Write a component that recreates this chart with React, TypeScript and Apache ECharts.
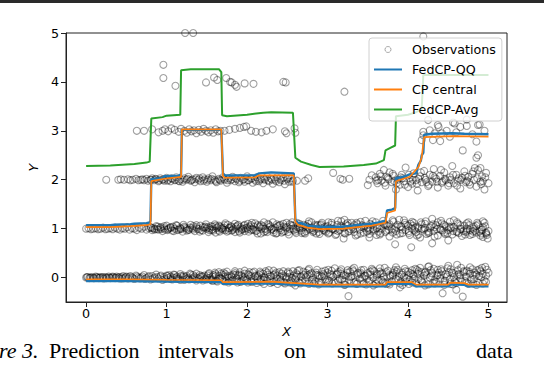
import React, { useEffect, useRef } from "react";
import * as echarts from "echarts";

// ---- Observations ----
const obsBand0: number[][] = [
  [0,0],[0.02,0.01],[0.04,-0.01],[0.06,0],[0.08,0.01],[0.1,-0.01],[0.12,0.02],[0.14,0],[0.16,-0.01],[0.18,0.01],[0.2,0],[0.22,-0.02],[0.24,0.01],[0.26,0],[0.28,0.02],[0.3,-0.01],[0.32,0],[0.34,0.01],[0.36,-0.01],[0.38,0.02],[0.4,0],[0.42,-0.02],[0.44,0.01],[0.46,0.03],[0.48,-0.01],[0.5,0.02],
  [0.01,0.01],[0.05,0],[0.09,-0.01],[0.13,0.01],[0.17,0],[0.21,0.01],[0.25,-0.01],[0.29,0],[0.33,0.02],[0.37,0],[0.41,0.01],[0.45,-0.02],[0.49,0.01],
  [0.52,-0.02],[0.55,0.03],[0.57,0.01],[0.6,-0.03],[0.62,0.04],[0.65,0],[0.67,-0.02],[0.7,0.02],[0.72,0.05],[0.75,-0.01],[0.77,0.01],[0.8,-0.04],[0.82,0.03],[0.85,0],[0.87,0.06],[0.9,-0.02],[0.92,0.02],[0.95,-0.05],[0.97,0.01],[1.0,0.04],[1.02,-0.01],[1.05,0.02],[1.07,-0.04],[1.1,0.05],[1.12,0],[1.15,-0.02],[1.17,0.07],[1.2,0.01],[1.22,-0.05],[1.25,0.03],[1.27,-0.01],[1.3,0.06],[1.32,-0.03],[1.35,0.02],[1.37,0.08],[1.4,-0.02],[1.42,0.01],[1.45,-0.06],[1.47,0.04],[1.5,0],
  [0.53,0.01],[0.58,-0.01],[0.63,0.02],[0.68,0],[0.73,-0.03],[0.78,0.03],[0.83,-0.02],[0.88,0.01],[0.93,0.04],[0.98,-0.03],[1.03,0.05],[1.08,0],[1.13,-0.03],[1.18,0.03],[1.23,0.01],[1.28,-0.04],[1.33,0.05],[1.38,-0.01],[1.43,0.03],[1.48,-0.03],
  [1.52,0.07],[1.55,-0.04],[1.57,0.02],[1.6,0.1],[1.62,-0.06],[1.65,0.03],[1.67,-0.01],[1.7,0.05],[1.72,-0.08],[1.75,0.12],[1.77,0],[1.8,0.04],[1.82,-0.05],[1.85,0.09],[1.87,-0.02],[1.9,0.06],[1.92,-0.09],[1.95,0.01],[1.97,0.14],[2.0,-0.04],[2.02,0.05],[2.05,-0.07],[2.07,0.1],[2.1,0.02],[2.12,-0.11],[2.15,0.06],[2.17,-0.03],[2.2,0.08],[2.22,0],[2.25,-0.06],[2.27,0.15],[2.3,0.03],[2.32,-0.09],[2.35,0.07],[2.37,-0.02],[2.4,0.11],[2.42,-0.05],[2.45,0.04],[2.47,-0.12],[2.5,0.09],[2.52,0.01],[2.55,-0.07],[2.57,0.13],[2.6,-0.03],[2.62,0.06],[2.65,-0.1],[2.67,0.02],[2.7,0.12],[2.72,-0.06],[2.75,0.05],[2.77,-0.13],[2.8,0.09],[2.82,0],[2.85,-0.08],[2.87,0.16],[2.9,0.03],[2.92,-0.11],[2.95,0.07],[2.97,-0.04],[3.0,0.1],
  [1.53,-0.01],[1.58,0.05],[1.63,-0.08],[1.68,0.08],[1.73,0.02],[1.78,-0.06],[1.83,0.06],[1.88,-0.1],[1.93,0.04],[1.98,-0.02],[2.03,0.11],[2.08,-0.05],[2.13,0.03],[2.18,-0.09],[2.23,0.13],[2.28,-0.03],[2.33,0.05],[2.38,-0.13],[2.43,0.08],[2.48,0.02],[2.53,-0.1],[2.58,0.04],[2.63,0.14],[2.68,-0.07],[2.73,0.01],[2.78,0.07],[2.83,-0.12],[2.88,0.05],[2.93,0.12],[2.98,-0.08],
  [3.02,-0.06],[3.05,0.14],[3.07,0.02],[3.1,-0.11],[3.12,0.08],[3.15,-0.03],[3.17,0.17],[3.2,0.05],[3.22,-0.14],[3.25,0.1],[3.27,-0.05],[3.3,0.03],[3.32,0.13],[3.35,-0.09],[3.37,0.06],[3.4,-0.02],[3.42,0.15],[3.45,-0.12],[3.47,0.04],[3.5,0.09],[3.52,-0.07],[3.55,0.18],[3.57,0],[3.6,-0.13],[3.62,0.07],[3.65,0.12],[3.67,-0.05],[3.7,0.02],[3.72,-0.1],[3.75,0.14],[3.77,0.05],[3.8,-0.08],[3.82,0.1],[3.85,-0.03],[3.87,0.16],[3.9,-0.12],[3.92,0.06],[3.95,0.01],[3.97,-0.09],[4.0,0.12],
  [3.03,0.07],[3.08,-0.08],[3.13,0.11],[3.18,-0.04],[3.23,0.04],[3.28,0.12],[3.33,-0.1],[3.38,0.09],[3.43,0],[3.48,-0.14],[3.53,0.06],[3.58,0.13],[3.63,-0.06],[3.68,0.09],[3.73,-0.13],[3.78,0.03],[3.83,0.15],[3.88,-0.05],[3.93,0.1],[3.98,-0.02],
  [4.02,-0.05],[4.05,0.15],[4.07,0.03],[4.1,-0.12],[4.12,0.08],[4.15,0.2],[4.17,-0.07],[4.2,0.04],[4.22,0.12],[4.25,-0.14],[4.27,0],[4.3,0.09],[4.32,0.18],[4.35,-0.09],[4.37,0.05],[4.4,-0.02],[4.42,0.13],[4.45,-0.15],[4.47,0.07],[4.5,0.24],[4.52,-0.04],[4.55,0.1],[4.57,0.01],[4.6,-0.11],[4.62,0.15],[4.65,0.05],[4.67,-0.08],[4.7,0.11],[4.72,0.02],[4.75,-0.13],[4.77,0.08],[4.8,0.17],[4.82,-0.03],[4.85,0.06],[4.87,-0.1],[4.9,0.13],[4.92,0.2],[4.95,-0.06],[4.97,0.04],[5.0,0.1],
  [4.03,0.09],[4.08,-0.02],[4.13,0.13],[4.18,-0.1],[4.23,0.06],[4.28,0.15],[4.33,-0.05],[4.38,0.1],[4.43,-0.32],[4.48,0.02],[4.53,0.17],[4.58,-0.08],[4.63,0.07],[4.68,-0.39],[4.73,0.14],[4.78,-0.04],[4.83,0.1],[4.88,0.03],[4.93,-0.12],[4.98,0.16],
  [1.01,0.03],[1.05,-0.03],[1.09,0.06],[1.13,0.02],[1.17,-0.05],[1.21,0.04],[1.25,-0.02],[1.29,0.08],[1.33,0],[1.37,-0.06],[1.41,0.05],[1.45,0.02],[1.49,-0.04],[1.53,0.09],[1.57,-0.07],[1.61,0.03],[1.65,0.11],[1.69,-0.03],[1.73,0.07],[1.77,-0.1],[1.81,0.01],[1.85,0.13],[1.89,0.04],[1.93,-0.06],[1.97,0.08],[2.01,-0.1],[2.05,0.03],[2.09,0.12],[2.13,-0.04],[2.17,0.09],[2.21,0.01],[2.25,0.1],[2.29,-0.11],[2.33,0.14],[2.37,0.04],[2.41,-0.08],[2.45,0.13],[2.49,-0.02],[2.53,0.08],[2.57,-0.12],[2.61,0.02],[2.65,0.15],[2.69,-0.05],[2.73,0.1],[2.77,0.18],[2.81,-0.09],[2.85,0.06],[2.89,-0.14],[2.93,0.02],[2.97,0.14],
  [3.01,-0.1],[3.05,0.05],[3.09,0.19],[3.13,-0.07],[3.17,0.08],[3.21,-0.15],[3.25,0.15],[3.29,0.01],[3.33,0.2],[3.37,-0.12],[3.41,0.07],[3.45,0.16],[3.49,-0.03],[3.53,0.12],[3.57,-0.16],[3.61,0.04],[3.65,0.19],[3.69,-0.09],[3.73,0.11],[3.77,-0.14],[3.81,0.06],[3.85,0.21],[3.89,0.02],[3.93,-0.15],[3.97,0.13],[4.01,0.05],[4.05,-0.1],[4.09,0.18],[4.13,-0.03],[4.17,0.11],[4.21,-0.16],[4.25,0.22],[4.29,0.03],[4.33,-0.12],[4.37,0.16],[4.41,0.06],[4.45,-0.08],[4.49,0.19],[4.53,-0.13],[4.57,0.09],[4.61,0.26],[4.65,-0.02],[4.69,0.13],[4.73,-0.1],[4.77,0.21],[4.81,0.05],[4.85,-0.15],[4.89,0.17],[4.93,0.08],[4.97,-0.09],
  [1.51,0.04],[1.56,-0.05],[1.61,0.07],[1.66,-0.02],[1.71,0.1],[1.76,0.03],[1.81,-0.07],[1.86,0.05],[1.91,0.11],[1.96,-0.04],[2.01,0.07],[2.06,-0.09],[2.11,0.04],[2.16,0.12],[2.21,-0.05],[2.26,0.06],[2.31,-0.08],[2.36,0.1],[2.41,0.02],[2.46,-0.1],[2.51,0.12],[2.56,-0.01],[2.61,0.09],[2.66,-0.12],[2.71,0.05],[2.76,0.15],[2.81,-0.04],[2.86,0.1],[2.91,-0.09],[2.96,0.04],
  [3.01,0.16],[3.06,-0.12],[3.11,0.06],[3.16,0.13],[3.21,-0.07],[3.26,0.02],[3.31,0.17],[3.36,-0.13],[3.41,0.1],[3.46,0.03],[3.51,-0.1],[3.56,0.15],[3.61,-0.04],[3.66,0.08],[3.71,0.2],[3.76,-0.11],[3.81,0.04],[3.86,0.12],[3.91,-0.08],[3.96,0.18],[4.01,-0.13],[4.06,0.07],[4.11,0.16],[4.16,-0.05],[4.21,0.1],[4.26,0.23],[4.31,-0.11],[4.36,0.04],[4.41,0.17],[4.46,-0.06],[4.51,0.11],[4.56,-0.14],[4.61,0.05],[4.66,0.2],[4.71,-0.07],[4.76,0.12],[4.81,-0.12],[4.86,0.15],[4.91,0.01],[4.96,0.22],
  [3.26,-0.38],[2.21,-0.13],[2.6,-0.16],[3.9,-0.2],[4.6,-0.25]
];

const obsBand1: number[][] = [
  [0,1.0],[0.03,1.01],[0.06,0.99],[0.09,1.0],[0.12,1.01],[0.15,0.99],[0.18,1.0],[0.21,1.02],[0.24,0.99],[0.27,1.0],[0.3,1.01],[0.33,0.99],[0.36,1.02],[0.39,1.0],[0.42,0.98],[0.45,1.01],[0.48,1.0],[0.51,1.03],[0.54,0.98],[0.57,1.01],[0.6,1.0],[0.63,0.97],[0.66,1.02],[0.69,1.0],[0.72,1.04],[0.75,0.98],[0.78,1.01],
  [0.8,1.03],[0.82,0.97],[0.85,1.0],[0.87,1.05],[0.9,0.98],[0.92,1.02],[0.95,0.95],[0.97,1.01],[1.0,1.06],[1.02,0.99],[1.05,1.03],[1.07,0.96],[1.1,1.0],[1.12,1.07],[1.15,0.98],[1.17,1.02],[1.2,0.94],[1.22,1.04],[1.25,1.0],[1.27,0.97],[1.3,1.08],[1.32,1.01],[1.35,0.95],[1.37,1.03],[1.4,0.99],[1.42,1.06],[1.45,0.96],[1.47,1.02],[1.5,1.0],[1.52,0.93],[1.55,1.05],[1.57,0.99],[1.6,1.09],[1.62,1.01],[1.65,0.96],[1.67,1.04],[1.7,0.98],[1.72,1.07],[1.75,0.94],[1.77,1.01],[1.8,1.05],[1.82,0.97],[1.85,1.1],[1.87,1.0],[1.9,0.95],[1.92,1.03],[1.95,0.99],[1.97,1.08],
  [0.83,1.01],[0.88,0.99],[0.93,1.03],[0.98,0.98],[1.03,1.01],[1.08,1.04],[1.13,0.97],[1.18,1.0],[1.23,1.02],[1.28,0.98],[1.33,1.05],[1.38,1.0],[1.43,0.97],[1.48,1.04],[1.53,1.01],[1.58,0.96],[1.63,1.03],[1.68,1.0],[1.73,0.97],[1.78,1.02],[1.83,1.0],[1.88,1.06],[1.93,0.97],[1.98,1.01],
  [2.0,1.02],[2.02,0.94],[2.05,1.07],[2.07,0.99],[2.1,1.11],[2.12,0.96],[2.15,1.03],[2.17,0.9],[2.2,1.05],[2.22,1.0],[2.25,0.93],[2.27,1.08],[2.3,0.98],[2.32,1.13],[2.35,1.02],[2.37,0.91],[2.4,1.06],[2.42,0.97],[2.45,1.1],[2.47,0.95],[2.5,1.03],[2.52,0.88],[2.55,1.07],[2.57,1.0],[2.6,0.94],[2.62,1.12],[2.65,1.01],[2.67,0.96],[2.7,1.08],[2.72,0.9],[2.75,1.04],[2.77,0.98],[2.8,1.13],[2.82,0.93],[2.85,1.05],[2.87,1.0],[2.9,0.89],[2.92,1.09],[2.95,0.97],[2.97,1.04],
  [2.03,1.04],[2.08,0.97],[2.13,1.07],[2.18,1.0],[2.23,0.95],[2.28,1.03],[2.33,0.97],[2.38,1.05],[2.43,0.92],[2.48,1.02],[2.53,1.09],[2.58,0.97],[2.63,1.03],[2.68,0.91],[2.73,1.06],[2.78,1.0],[2.83,0.95],[2.88,1.07],[2.93,1.01],[2.98,0.94],
  [3.0,1.05],[3.02,0.92],[3.05,1.12],[3.07,1.0],[3.1,0.87],[3.12,1.08],[3.15,0.97],[3.17,1.15],[3.2,1.02],[3.22,0.9],[3.25,1.06],[3.27,0.95],[3.3,1.12],[3.32,1.0],[3.35,0.86],[3.37,1.09],[3.4,0.98],[3.42,1.04],[3.45,0.92],[3.47,1.16],[3.5,1.01],[3.52,0.89],[3.55,1.07],[3.57,0.96],[3.6,1.13],[3.62,1.03],[3.65,0.88],[3.67,1.0],[3.7,1.1],[3.72,0.93],[3.75,1.05],[3.77,0.84],[3.8,1.0],[3.82,1.14],[3.85,0.95],[3.87,1.08],[3.9,0.9],[3.92,1.03],[3.95,1.17],[3.97,0.97],
  [4.0,1.06],[4.02,0.87],[4.05,1.0],[4.07,1.12],[4.1,0.93],[4.12,1.04],[4.15,0.82],[4.17,1.09],[4.2,0.98],[4.22,1.15],[4.25,0.91],[4.27,1.02],[4.3,1.2],[4.32,0.95],[4.35,1.07],[4.37,0.86],[4.4,1.0],[4.42,1.11],[4.45,0.92],[4.47,1.05],[4.5,0.97],[4.52,1.14],[4.55,0.88],[4.57,1.03],[4.6,0.94],[4.62,1.1],[4.65,0.99],[4.67,0.85],[4.7,1.06],[4.72,0.93],[4.75,1.13],[4.77,0.97],[4.8,0.89],[4.82,1.04],[4.85,0.92],[4.87,1.09],[4.9,0.86],[4.92,0.98],[4.95,1.12],[4.97,0.9],[5.0,0.95],
  [3.03,1.01],[3.13,0.95],[3.23,1.09],[3.33,0.93],[3.43,1.07],[3.53,0.99],[3.63,0.94],[3.73,1.07],[3.83,0.98],[3.93,0.91],[4.03,1.1],[4.08,0.96],[4.13,1.01],[4.23,0.89],[4.33,1.03],[4.43,0.96],[4.53,1.01],[4.63,0.91],[4.73,1.0],[4.83,0.96],[4.93,1.03],[4.98,0.87],[4.99,0.8],
  [0.81,1.02],[0.85,0.98],[0.89,1.04],[0.93,0.99],[0.97,1.05],[1.01,0.97],[1.05,1.02],[1.09,0.95],[1.13,1.06],[1.17,0.99],[1.21,1.08],[1.25,0.96],[1.29,1.02],[1.33,0.98],[1.37,1.07],[1.41,0.94],[1.45,1.03],[1.49,1.09],[1.53,0.97],[1.57,1.04],[1.61,0.92],[1.65,1.06],[1.69,1.01],[1.73,1.11],[1.77,0.96],[1.81,1.03],[1.85,0.93],[1.89,1.08],[1.93,1.0],[1.97,0.95],
  [2.01,1.1],[2.05,0.97],[2.09,1.04],[2.13,0.9],[2.17,1.08],[2.21,1.13],[2.25,0.98],[2.29,1.05],[2.33,0.92],[2.37,1.09],[2.41,1.01],[2.45,0.94],[2.49,1.12],[2.53,0.99],[2.57,1.06],[2.61,0.91],[2.65,1.1],[2.69,1.02],[2.73,0.95],[2.77,1.15],[2.81,0.97],[2.85,1.08],[2.89,0.93],[2.93,1.12],[2.97,1.0],
  [3.01,0.9],[3.05,1.08],[3.09,0.97],[3.13,1.16],[3.17,1.03],[3.21,0.91],[3.25,1.12],[3.29,0.99],[3.33,1.07],[3.37,0.88],[3.41,1.14],[3.45,1.02],[3.49,0.94],[3.53,1.1],[3.57,0.99],[3.61,0.87],[3.65,1.06],[3.69,1.16],[3.73,0.96],[3.77,1.09],[3.81,0.92],[3.85,1.04],[3.89,1.18],[3.93,0.98],[3.97,1.08],
  [4.01,0.91],[4.05,1.14],[4.09,1.02],[4.13,0.88],[4.17,1.0],[4.21,1.1],[4.25,0.95],[4.29,1.05],[4.33,0.84],[4.37,1.13],[4.41,0.97],[4.45,1.08],[4.49,0.9],[4.53,1.03],[4.57,1.17],[4.61,0.93],[4.65,1.07],[4.69,0.95],[4.73,1.11],[4.77,0.87],[4.81,1.0],[4.85,1.06],[4.89,0.94],[4.93,1.15],[4.97,0.92],
  [1.51,1.03],[1.56,0.97],[1.61,1.06],[1.66,0.94],[1.71,1.02],[1.76,1.08],[1.81,0.96],[1.86,1.04],[1.91,0.92],[1.96,1.06],[2.01,0.99],[2.06,1.12],[2.11,0.95],[2.16,1.05],[2.21,0.93],[2.26,1.1],[2.31,1.0],[2.36,0.9],[2.41,1.08],[2.46,1.04],[2.51,0.93],[2.56,1.13],[2.61,0.99],[2.66,1.06],[2.71,0.92],[2.76,1.1],[2.81,1.02],[2.86,0.9],[2.91,1.07],[2.96,0.96],
  [3.01,1.13],[3.06,0.99],[3.11,0.89],[3.16,1.06],[3.21,1.18],[3.26,0.94],[3.31,1.03],[3.36,1.12],[3.41,0.9],[3.46,1.05],[3.51,0.97],[3.56,1.15],[3.61,1.01],[3.66,0.91],[3.71,1.08],[3.76,0.98],[3.81,1.17],[3.86,0.88],[3.91,1.05],[3.96,1.12],[4.01,0.95],[4.06,1.06],[4.11,0.86],[4.16,1.13],[4.21,1.01],[4.26,0.92],[4.31,1.09],[4.36,0.99],[4.41,1.16],[4.46,0.89],[4.51,1.04],[4.56,0.95],[4.61,1.13],[4.66,1.0],[4.71,0.88],[4.76,1.07],[4.81,0.94],[4.86,1.12],[4.91,0.97],[4.96,1.05],
  [4.04,0.62],[3.84,0.68],[3.2,0.8],[3.52,0.82],[4.93,0.83],[4.3,0.7],[4.5,0.76],[4.73,0.96],[4.91,0.9]
];

const obsBand2: number[][] = [
  [0.25,2.0],[0.4,2.0],[0.43,2.01],[0.47,2.0],[0.52,2.01],[0.55,1.99],[0.58,2.0],[0.62,2.02],[0.65,1.99],[0.68,2.0],
  [0.7,2.01],[0.72,1.99],[0.75,2.02],[0.77,1.98],[0.8,2.0],[0.82,2.03],[0.85,1.99],[0.87,2.01],[0.9,1.97],[0.92,2.03],[0.95,2.0],[0.97,1.98],[1.0,2.04],[1.02,2.0],[1.05,1.97],[1.07,2.02],[1.1,1.99],[1.12,2.05],[1.15,1.98],[1.17,2.01],[1.2,1.96],[1.22,2.03],[1.25,2.0],[1.27,2.06],[1.3,1.98],[1.32,2.01],[1.35,1.95],[1.37,2.04],[1.4,2.0],[1.42,1.97],[1.45,2.05],[1.47,2.01],[1.5,1.96],[1.52,2.03],[1.55,1.99],[1.57,2.07],[1.6,2.0],[1.62,1.95],[1.65,2.02],[1.67,1.98],[1.7,2.05],[1.72,2.0],[1.75,1.94],[1.77,2.03],[1.8,1.99],[1.82,2.06],[1.85,1.97],[1.87,2.01],[1.9,1.95],[1.92,2.04],[1.95,2.0],[1.97,1.96],[2.0,2.07],[2.02,1.99],[2.05,2.02],[2.07,1.94],[2.1,2.0],[2.12,2.05],[2.15,1.97],[2.17,2.02],[2.2,1.93],[2.22,2.0],[2.25,2.06],[2.27,1.97],[2.3,2.02],[2.32,1.92],[2.35,2.0],[2.37,2.05],[2.4,1.95],[2.42,1.99],[2.45,2.04],[2.47,1.91],[2.5,2.01],[2.52,1.96],[2.55,2.03],[2.57,1.98],
  [1.21,2.0],[1.26,2.02],[1.31,1.99],[1.36,2.01],[1.41,2.03],[1.46,1.98],[1.51,2.0],[1.56,2.02],[1.61,1.97],[1.66,2.0],[1.71,2.02],[1.76,1.99],[1.81,2.01],[1.86,2.03],[1.91,1.98],[1.96,2.01],[2.01,1.99],[2.06,2.03],[2.11,1.97],[2.16,2.0],[2.21,2.02],[2.26,1.99],[2.31,2.0],[2.36,1.97],
  [0.81,2.0],[0.86,2.02],[0.91,1.99],[0.96,2.01],[1.01,1.98],[1.06,2.03],[1.11,2.0],[1.16,1.97],[2.41,2.02],[2.46,1.98],[2.51,2.04],[2.56,1.96],
  [2.62,1.98],[2.72,1.98],[2.76,2.03],[3.07,2.14],[3.16,2.02],[3.19,2.0],[3.27,2.02],[3.5,1.89],[3.52,2.0],[3.55,2.09],
  [3.6,2.05],[3.62,1.93],[3.65,2.12],[3.67,1.98],[3.7,2.2],[3.72,1.88],[3.75,2.04],[3.77,2.15],[3.8,1.95],[3.82,2.08],[3.85,1.8],[3.87,2.0],[3.9,1.9],[3.92,2.1],[3.95,1.97],[3.97,2.25],[4.0,1.85],[4.02,2.03],[4.05,1.92],[4.07,2.13],[4.1,1.99],[4.12,1.78],[4.15,2.07],[4.17,1.95],[4.2,2.18],[4.22,2.0],[4.25,1.87],[4.27,2.1],[4.3,1.96],[4.32,2.22],[4.35,2.02],[4.37,1.84],[4.4,2.08],[4.42,1.94],[4.45,2.15],[4.47,1.99],[4.5,1.88],[4.52,2.05],[4.55,2.28],[4.57,1.93],[4.6,2.1],[4.62,1.98],[4.65,1.82],[4.67,2.04],[4.7,2.17],[4.72,1.95],[4.75,2.06],[4.77,1.9],[4.8,2.12],[4.82,2.0],[4.85,1.86],[4.87,2.2],[4.9,1.96],[4.92,2.07],[4.95,1.8],[4.97,2.14],[5.0,1.93],
  [3.63,2.0],[3.73,2.06],[3.83,1.97],[3.93,2.03],[4.03,1.96],[4.13,2.02],[4.23,1.95],[4.33,2.05],[4.43,1.97],[4.53,2.0],[4.63,2.03],[4.73,1.98],[4.83,2.24],[4.93,1.97],[4.9,2.24],
  [3.61,1.98],[3.66,2.07],[3.71,1.94],[3.76,2.01],[3.81,2.12],[3.86,1.93],[3.91,2.05],[3.96,1.9],[4.01,2.1],[4.06,2.0],[4.11,1.92],[4.16,2.15],[4.21,2.04],[4.26,1.9],[4.31,2.08],[4.36,1.96],[4.41,2.2],[4.46,2.02],[4.51,1.93],[4.56,2.1],[4.61,1.88],[4.66,2.0],[4.71,2.08],[4.76,1.95],[4.81,2.17],[4.86,2.03],[4.91,1.91],[4.96,2.05]
];

const obsBand3: number[][] = [
  [0.63,3.0],[0.72,3.0],[0.82,3.03],[0.9,2.97],[0.95,3.0],[0.98,3.03],[1.02,2.99],[1.06,3.05],[1.1,3.02],[1.15,2.98],[1.18,3.04],[1.22,3.0],[1.25,2.96],[1.28,3.03],[1.31,2.99],[1.34,3.01],[1.37,2.95],[1.4,3.02],[1.43,2.98],[1.46,3.04],[1.49,3.0],[1.52,2.97],[1.55,3.01],[1.58,2.96],[1.61,3.03],[1.64,2.99],[1.67,3.0],
  [1.72,3.0],[1.78,3.02],[1.85,3.04],[1.91,3.06],[1.96,3.08],[1.99,3.09],[2.05,3.0],[2.11,2.98],[2.18,2.97],[2.24,3.0],[2.32,3.03],[2.47,2.99],[2.49,2.95],[2.59,3.05],[2.6,2.96],
  [4.17,2.81],[4.19,2.91],[4.19,2.98],[4.25,3.22],[4.27,3.01],[4.31,2.81],[4.33,2.95],[4.37,3.12],[4.38,3.08],[4.4,2.79],[4.42,2.95],[4.48,3.0],[4.52,2.88],[4.56,3.17],[4.58,3.15],[4.6,2.97],[4.65,3.08],[4.68,2.6],[4.73,3.23],[4.73,3.1],[4.8,2.93],[4.85,2.45],[4.85,2.78],[4.87,3.12],[4.87,2.5],[4.89,3.13],[4.95,3.0]
];

const obsOutliers: number[][] = [
  [0.96,4.35],[0.96,4.08],[1.11,3.92],[1.23,5.0],[1.33,5.0],[1.49,3.99],[1.59,4.09],[1.63,4.04],[1.74,4.08],[1.79,4.0],[1.81,3.99],[1.85,3.94],[1.87,3.9],[1.97,3.97],[2.08,3.96],[2.45,4.0],[2.48,3.99],[3.21,3.8],[4.19,4.93]
];

// ---- Interval bounds (step curves) ----
const qqUpper: number[][] = [
  [0,1.07],[0.3,1.07],[0.35,1.08],[0.55,1.09],[0.6,1.1],[0.75,1.11],[0.79,1.13],[0.8,1.16],[0.81,2.01],[0.95,2.03],[0.97,2.07],[1.15,2.08],[1.18,2.11],[1.19,3.02],[1.68,3.02],[1.7,2.13],[1.72,2.09],[2.1,2.09],[2.15,2.13],[2.3,2.15],[2.58,2.13],[2.6,1.18],[2.63,1.12],[2.7,1.1],[2.75,1.06],[2.9,1.04],[3.2,1.04],[3.35,1.07],[3.55,1.1],[3.62,1.12],[3.72,1.16],[3.74,1.37],[3.8,1.39],[3.84,1.42],[3.85,2.03],[3.95,2.06],[4.02,2.11],[4.1,2.13],[4.13,2.31],[4.16,2.39],[4.17,2.5],[4.19,2.55],[4.2,2.92],[4.3,2.94],[4.55,2.95],[4.7,2.94],[5.0,2.93]
];
const qqLower: number[][] = [
  [0,-0.07],[0.5,-0.07],[1.0,-0.08],[1.68,-0.09],[1.7,-0.13],[2.3,-0.12],[2.5,-0.14],[2.9,-0.18],[3.72,-0.18],[3.74,-0.13],[4.05,-0.13],[4.1,-0.18],[4.5,-0.18],[4.53,-0.14],[4.7,-0.15],[4.75,-0.18],[5.0,-0.18]
];
const cpUpper: number[][] = [
  [0,1.03],[0.3,1.03],[0.55,1.05],[0.75,1.07],[0.8,1.09],[0.81,1.97],[0.97,2.02],[1.18,2.06],[1.19,3.03],[1.68,3.03],[1.7,2.08],[1.72,2.04],[2.1,2.05],[2.15,2.09],[2.58,2.09],[2.6,1.14],[2.63,1.08],[2.75,1.02],[2.9,0.99],[3.2,1.0],[3.55,1.06],[3.72,1.12],[3.74,1.32],[3.84,1.37],[3.85,1.97],[4.02,2.06],[4.13,2.26],[4.17,2.46],[4.2,2.87],[4.55,2.89],[5.0,2.88]
];
const cpLower: number[][] = [
  [0,-0.035],[0.5,-0.035],[1.0,-0.045],[1.68,-0.055],[1.7,-0.095],[2.3,-0.085],[2.5,-0.105],[2.9,-0.145],[3.72,-0.145],[3.74,-0.095],[4.05,-0.095],[4.1,-0.145],[4.5,-0.145],[4.53,-0.105],[4.7,-0.115],[4.75,-0.145],[5.0,-0.145]
];
const avgUpper: number[][] = [
  [0,2.28],[0.3,2.29],[0.4,2.3],[0.6,2.32],[0.75,2.35],[0.79,2.37],[0.81,3.25],[0.95,3.28],[1.0,3.31],[1.17,3.33],[1.18,4.24],[1.3,4.26],[1.65,4.26],[1.68,4.2],[1.69,3.32],[1.75,3.3],[2.0,3.33],[2.2,3.37],[2.3,3.38],[2.57,3.37],[2.6,2.45],[2.67,2.37],[2.8,2.3],[2.9,2.26],[3.2,2.27],[3.45,2.3],[3.6,2.33],[3.7,2.4],[3.72,2.6],[3.78,2.65],[3.84,2.7],[3.85,3.3],[4.0,3.33],[4.1,3.38],[4.17,3.45],[4.19,4.14],[5.0,4.14]
];

const xTicks = [0, 1, 2, 3, 4, 5];
const yTicks = [0, 1, 2, 3, 4, 5];
const captionWords = ["Prediction", "intervals", "on", "simulated", "data"];

const BLUE = "#1f77b4";
const ORANGE = "#ff7f0e";
const GREEN = "#2ca02c";
const FONT = "DejaVu Sans";
const LINE_ICON = "path://M0 0H28V2H0Z";

export default function App() {
  const ref = useRef<HTMLDivElement>(null);
  useEffect(() => {
    if (!ref.current) return;
    const chart = echarts.init(ref.current, null, { renderer: "svg" });
    const obs = [...obsBand0, ...obsBand1, ...obsBand2, ...obsBand3, ...obsOutliers];
    const lineSeries = (name: string, data: number[][], color: string, width: number) => ({
      name,
      type: "line",
      data,
      symbol: "none",
      showSymbol: false,
      lineStyle: { color, width },
      itemStyle: { color },
      z: 3,
    });
    const wordX = [49, 158, 284, 337, 476];
    const serif = '22px "Liberation Serif"';
    chart.setOption({
      animation: false,
      grid: { left: 66, top: 33, right: 37, bottom: 66, show: true, borderColor: "#222", borderWidth: 1, backgroundColor: "transparent" },
      xAxis: {
        type: "value",
        min: -0.25,
        max: 5.23,
        name: "X",
        nameLocation: "middle",
        nameGap: 15,
        nameTextStyle: { fontFamily: FONT, fontSize: 12.7, fontStyle: "italic", color: "#000" },
        axisLine: { show: true, onZero: false, lineStyle: { color: "#222", width: 1 } },
        axisTick: { show: true, length: 5, lineStyle: { color: "#222" }, customValues: xTicks },
        axisLabel: { customValues: xTicks, color: "#000", fontFamily: FONT, fontSize: 12.7, margin: 5 },
        splitLine: { show: false },
      },
      yAxis: {
        type: "value",
        min: -0.5,
        max: 5,
        name: "Y",
        nameLocation: "middle",
        nameGap: 22,
        nameRotate: 90,
        nameTextStyle: { fontFamily: FONT, fontSize: 12.7, fontStyle: "italic", color: "#000" },
        axisLine: { show: true, onZero: false, lineStyle: { color: "#222", width: 1 } },
        axisTick: { show: true, length: 5, lineStyle: { color: "#222" }, customValues: yTicks },
        axisLabel: { customValues: yTicks, color: "#000", fontFamily: FONT, fontSize: 12.7, margin: 7 },
        splitLine: { show: false },
      },
      legend: {
        orient: "vertical",
        left: 369,
        top: 38,
        padding: [4, 6, 4, 5],
        itemWidth: 28,
        itemHeight: 6,
        itemGap: 5,
        backgroundColor: "rgba(255,255,255,0.8)",
        borderColor: "#d0d0d0",
        borderWidth: 1,
        borderRadius: 3,
        textStyle: { fontFamily: FONT, fontSize: 12.7, color: "#000", lineHeight: 15, padding: [0, 0, 0, 5] },
        data: [
          { name: "Observations", icon: "circle", itemStyle: { color: "transparent", borderColor: "rgba(0,0,0,0.4)", borderWidth: 1 } },
          { name: "FedCP-QQ", icon: LINE_ICON, itemStyle: { color: BLUE, borderWidth: 0 } },
          { name: "CP central", icon: LINE_ICON, itemStyle: { color: ORANGE, borderWidth: 0 } },
          { name: "FedCP-Avg", icon: LINE_ICON, itemStyle: { color: GREEN, borderWidth: 0 } },
        ],
      },
      series: [
        {
          name: "Observations",
          type: "scatter",
          data: obs,
          symbol: "circle",
          symbolSize: 7,
          progressive: 0,
          itemStyle: { color: "transparent", borderColor: "rgba(0,0,0,0.47)", borderWidth: 1.1 },
          z: 2,
        },
        lineSeries("FedCP-QQ", qqUpper, BLUE, 2.4),
        lineSeries("FedCP-QQ", qqLower, BLUE, 2.4),
        lineSeries("CP central", cpUpper, ORANGE, 1.7),
        lineSeries("CP central", cpLower, ORANGE, 1.7),
        lineSeries("FedCP-Avg", avgUpper, GREEN, 2),
      ],
      graphic: [
        { type: "rect", shape: { x: 0, y: 0, width: 544, height: 3 }, style: { fill: "#2a2a2a" } },
        { type: "text", x: -1, y: 350, style: { text: "re 3.", font: "italic " + serif, fill: "#000", verticalAlign: "middle" } },
        ...captionWords.map((w, i) => ({
          type: "text",
          x: wordX[i],
          y: 350,
          style: { text: w, font: serif, fill: "#000", verticalAlign: "middle" },
        })),
      ],
    });
    return () => chart.dispose();
  }, []);
  return <div ref={ref} style={{ position: "absolute", left: 0, top: 0, width: 544, height: 368, background: "#fff" }} />;
}
